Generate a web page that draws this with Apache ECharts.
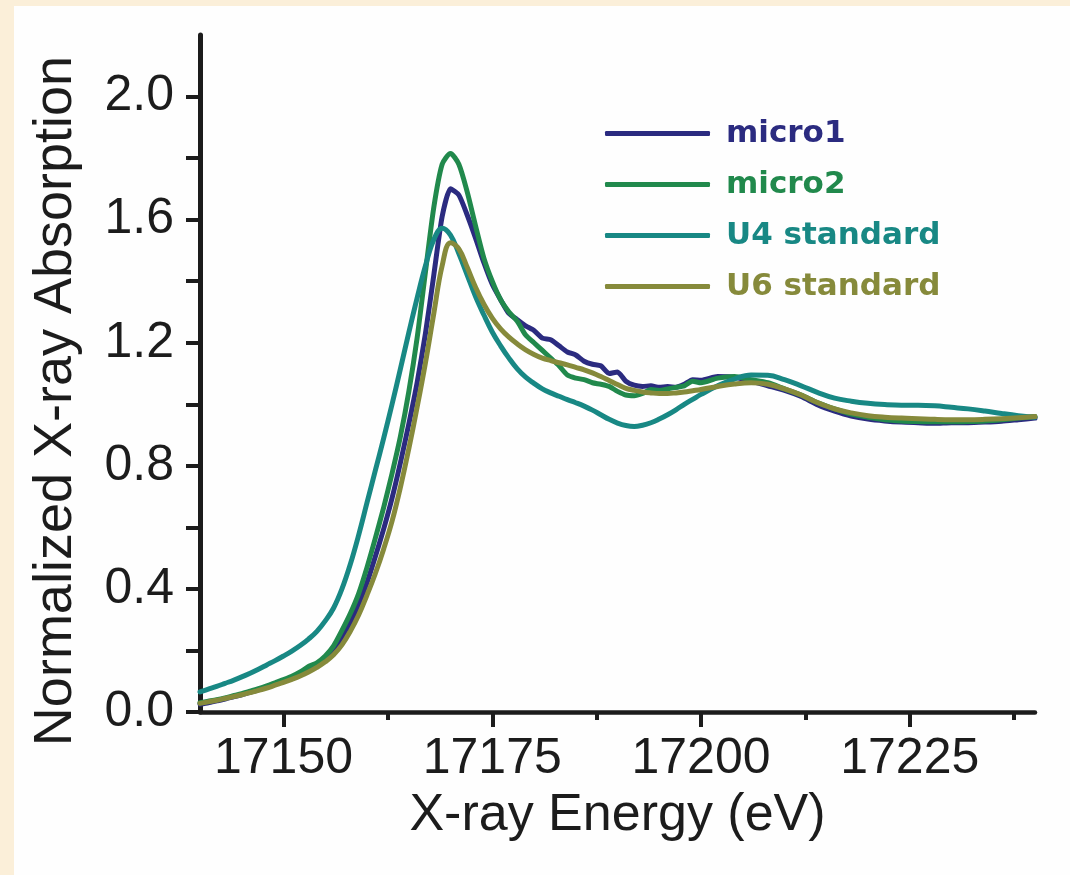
<!DOCTYPE html>
<html>
<head>
<meta charset="utf-8">
<title>Uranium L3-edge XANES</title>
<script src="https://cdn.jsdelivr.net/npm/echarts@6/dist/echarts.min.js"></script>
<style>
  html, body { margin: 0; padding: 0; background: #fbefd9; }
  #panel { position: absolute; left: 14px; top: 6px; right: 0; bottom: 0; background: #fefefe; }
  #chart { position: absolute; left: 0; top: 0; width: 1070px; height: 875px; }
</style>
</head>
<body>
<div id="panel"></div>
<div id="chart"></div>
<script>
// Photon energy grid (eV): 1 eV steps through the edge, 2 eV steps in the EXAFS tail
const energy = [
  17140, 17141, 17142, 17143, 17144, 17145, 17146, 17147, 17148, 17149,
  17150, 17151, 17152, 17153, 17154, 17155, 17156, 17157, 17158, 17159,
  17160, 17161, 17162, 17163, 17164, 17165, 17166, 17167, 17168, 17169,
  17170, 17171, 17172, 17173, 17174, 17175, 17176, 17177, 17178, 17179,
  17180, 17181, 17182, 17183, 17184, 17185, 17186, 17187, 17188, 17189,
  17190, 17191, 17192, 17193, 17194, 17195, 17196, 17197, 17198, 17199,
  17200, 17202, 17204, 17206, 17208, 17210, 17212, 17214, 17216, 17218,
  17220, 17222, 17224, 17226, 17228, 17230, 17232, 17234, 17236, 17238,
  17240
];

const micro1 = [
  0.025, 0.030, 0.036, 0.042, 0.049, 0.056, 0.064, 0.072, 0.081, 0.090,
  0.100, 0.111, 0.123, 0.137, 0.152, 0.171, 0.195, 0.240, 0.290, 0.350,
  0.420, 0.505, 0.595, 0.695, 0.810, 0.935, 1.070, 1.230, 1.420, 1.610,
  1.700, 1.680, 1.615, 1.540, 1.460, 1.390, 1.340, 1.295, 1.275, 1.255,
  1.240, 1.215, 1.210, 1.190, 1.170, 1.160, 1.140, 1.130, 1.125, 1.100,
  1.105, 1.075, 1.062, 1.058, 1.060, 1.055, 1.058, 1.055, 1.065, 1.080,
  1.078, 1.090, 1.088, 1.075, 1.060, 1.045, 1.025, 0.998, 0.978, 0.962,
  0.952, 0.946, 0.942, 0.940, 0.938, 0.940, 0.940, 0.942, 0.945, 0.950,
  0.955
];

const micro2 = [
  0.030, 0.035, 0.040, 0.046, 0.053, 0.060, 0.068, 0.076, 0.085, 0.095,
  0.105, 0.116, 0.130, 0.148, 0.160, 0.182, 0.215, 0.265, 0.320, 0.385,
  0.470, 0.565, 0.665, 0.775, 0.895, 1.040, 1.215, 1.430, 1.640, 1.780,
  1.815, 1.780, 1.690, 1.580, 1.475, 1.400, 1.340, 1.300, 1.270, 1.225,
  1.200, 1.175, 1.150, 1.125, 1.095, 1.085, 1.080, 1.070, 1.065, 1.058,
  1.042, 1.030, 1.028, 1.035, 1.048, 1.045, 1.050, 1.055, 1.060, 1.075,
  1.070, 1.085, 1.090, 1.080, 1.070, 1.050, 1.030, 1.005, 0.985, 0.968,
  0.958, 0.950, 0.946, 0.944, 0.943, 0.943, 0.944, 0.946, 0.950, 0.955,
  0.960
];

const u4Standard = [
  0.065, 0.074, 0.083, 0.093, 0.103, 0.114, 0.126, 0.139, 0.153, 0.167,
  0.182, 0.198, 0.216, 0.237, 0.262, 0.296, 0.338, 0.400, 0.480, 0.575,
  0.680, 0.785, 0.890, 1.000, 1.115, 1.232, 1.345, 1.450, 1.535, 1.572,
  1.550, 1.490, 1.420, 1.350, 1.290, 1.235, 1.190, 1.150, 1.115, 1.088,
  1.068, 1.050, 1.037, 1.026, 1.015, 1.005, 0.994, 0.981, 0.966, 0.951,
  0.939, 0.931, 0.928, 0.932, 0.940, 0.952, 0.966, 0.982, 1.000, 1.016,
  1.032, 1.060, 1.082, 1.095, 1.094, 1.080, 1.060, 1.038, 1.020, 1.010,
  1.003, 0.999, 0.997, 0.997, 0.995, 0.990, 0.985, 0.978, 0.970, 0.963,
  0.958
];

const u6Standard = [
  0.028, 0.033, 0.038, 0.044, 0.050, 0.056, 0.063, 0.070, 0.078, 0.087,
  0.096, 0.106, 0.117, 0.130, 0.145, 0.163, 0.186, 0.218, 0.262, 0.315,
  0.380, 0.450, 0.530, 0.620, 0.730, 0.855, 0.990, 1.135, 1.295, 1.450,
  1.525, 1.505, 1.445, 1.380, 1.325, 1.280, 1.245, 1.218, 1.196, 1.177,
  1.162, 1.150, 1.142, 1.135, 1.128, 1.120, 1.112, 1.102, 1.090, 1.077,
  1.064, 1.052, 1.045, 1.040, 1.037, 1.035, 1.035, 1.037, 1.040, 1.044,
  1.048, 1.058, 1.066, 1.070, 1.065, 1.050, 1.030, 1.005, 0.985, 0.972,
  0.963, 0.958, 0.955, 0.953, 0.951, 0.950, 0.950, 0.951, 0.953, 0.956,
  0.960
];

const seriesNames = ['micro1', 'micro2', 'U4 standard', 'U6 standard'];
const seriesColors = ['#2b2b80', '#21894c', '#188884', '#868a3b'];
const seriesValues = [micro1, micro2, u4Standard, u6Standard];
const seriesSmooth = [0.2, 0.25, 0.4, 0.4];

const xMajorTicks = [17150, 17175, 17200, 17225];
const xMinorTicks = [17162.5, 17187.5, 17212.5, 17237.5];
const yTicks = [0, 0.2, 0.4, 0.6, 0.8, 1.0, 1.2, 1.4, 1.6, 1.8, 2.0];
const yLabels = [0, 0.4, 0.8, 1.2, 1.6, 2.0];

const ink = '#1c1c1c';
const font = 'Liberation Sans, Arial, sans-serif';

const chart = echarts.init(document.getElementById('chart'), null, { renderer: 'canvas' });

const series = seriesNames.map((name, i) => ({
  name: name,
  type: 'line',
  xAxisIndex: 0,
  yAxisIndex: 0,
  showSymbol: false,
  symbol: 'none',
  smooth: seriesSmooth[i],
  data: energy.map((e, k) => [e, seriesValues[i][k]]),
  lineStyle: { color: seriesColors[i], width: 5, cap: 'round', join: 'round' },
  itemStyle: { color: seriesColors[i] },
  emphasis: { disabled: true },
  z: 2 + i
}));

chart.setOption({
  animation: false,
  backgroundColor: 'transparent',
  grid: { left: 200, top: 35, width: 835, height: 677, containLabel: false },
  legend: {
    orient: 'vertical',
    left: 605,
    top: 118,
    padding: 0,
    itemWidth: 105,
    itemHeight: 5,
    itemGap: 20,
    icon: 'roundRect',
    selectedMode: false,
    data: seriesNames.map((n, i) => ({
      name: n,
      itemStyle: { color: seriesColors[i] },
      textStyle: { color: seriesColors[i] }
    })),
    textStyle: {
      fontFamily: 'DejaVu Sans, sans-serif',
      fontWeight: 'bold',
      fontSize: 31,
      padding: [0, 0, 0, 11]
    }
  },
  xAxis: [
    {
      type: 'value',
      min: 17140,
      max: 17240,
      position: 'bottom',
      name: 'X-ray Energy (eV)',
      nameLocation: 'middle',
      nameGap: 78,
      nameTextStyle: { fontFamily: font, fontSize: 52, color: ink },
      axisLine: { show: true, onZero: false, lineStyle: { color: ink, width: 4.5 } },
      axisTick: { show: true, inside: false, length: 15, customValues: xMajorTicks, lineStyle: { color: ink, width: 4 } },
      axisLabel: {
        show: true,
        customValues: xMajorTicks,
        margin: 22,
        fontFamily: font,
        fontSize: 50,
        color: ink,
        formatter: v => String(v)
      },
      splitLine: { show: false }
    },
    {
      type: 'value',
      min: 17140,
      max: 17240,
      position: 'bottom',
      offset: 0,
      axisLine: { show: false },
      axisTick: { show: true, inside: false, length: 8, customValues: xMinorTicks, lineStyle: { color: ink, width: 4 } },
      axisLabel: { show: false },
      splitLine: { show: false }
    }
  ],
  yAxis: {
    type: 'value',
    min: 0,
    max: 2.2,
    interval: 0.2,
    axisLine: { show: true, onZero: false, lineStyle: { color: ink, width: 5 } },
    axisTick: { show: true, inside: false, length: 14, customValues: yTicks, lineStyle: { color: ink, width: 4 } },
    axisLabel: {
      show: true,
      customValues: yLabels,
      margin: 26,
      fontFamily: font,
      fontSize: 50,
      color: ink,
      formatter: v => Number(v).toFixed(1)
    },
    splitLine: { show: false }
  },
  graphic: [
    {
      type: 'text',
      x: 56,
      y: 401,
      rotation: Math.PI / 2,
      silent: true,
      style: {
        text: 'Normalized X-ray Absorption',
        font: '54px ' + font,
        fill: ink,
        textAlign: 'center',
        textVerticalAlign: 'middle'
      }
    }
  ],
  series: series
});
</script>
</body>
</html>
